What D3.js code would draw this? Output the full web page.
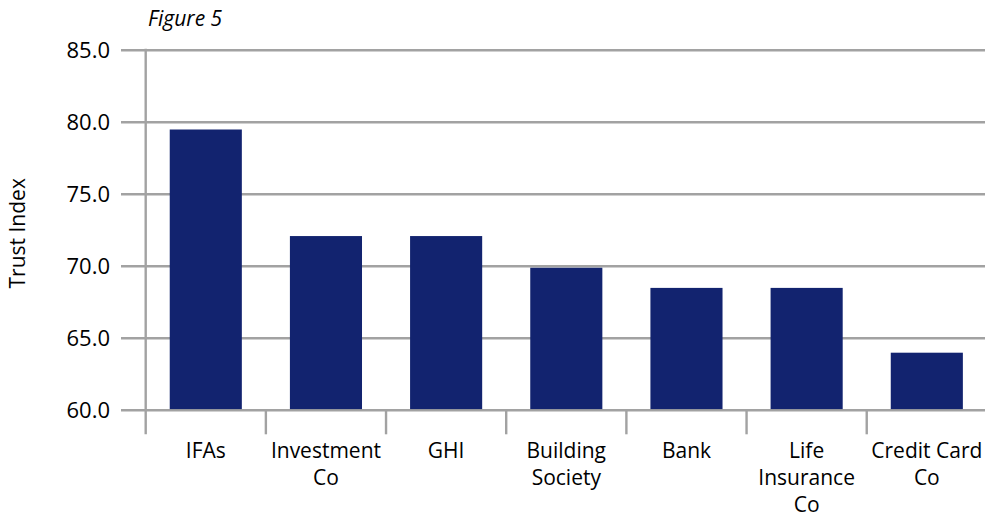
<!DOCTYPE html>
<html>
<head>
<meta charset="utf-8">
<script src="https://cdn.jsdelivr.net/npm/d3@7"></script>
<style>
  html, body { margin: 0; padding: 0; background: #fff; }
  svg { display: block; }
  text { font-family: "Open Sans", "Noto Sans", sans-serif; fill: #000; }
</style>
</head>
<body>
<svg id="chart" width="985" height="518"></svg>
<script>
// Trust Index by provider type
const categories = ["IFAs", "Investment Co", "GHI", "Building Society", "Bank", "Life Insurance Co", "Credit Card Co"];
const labelLines = [["IFAs"], ["Investment", "Co"], ["GHI"], ["Building", "Society"], ["Bank"], ["Life", "Insurance", "Co"], ["Credit Card", "Co"]];
const trustIndex = [79.5, 72.1, 72.1, 69.9, 68.5, 68.5, 64.0];
const yTicks = [60, 65, 70, 75, 80, 85];

const svg = d3.select("#chart");
const W = 985, H = 518;
const plot = { left: 145.7, right: 986.9, top: 50.3, bottom: 410.3 };
const gridColor = "#a2a2a2";

const x = d3.scaleBand()
  .domain(categories)
  .range([plot.left, plot.right])
  .paddingInner(0.4)
  .paddingOuter(0.2);

const y = d3.scaleLinear()
  .domain([60, 85])
  .range([plot.bottom, plot.top]);

// horizontal gridlines (the 60.0 line doubles as the category axis)
svg.append("g")
  .selectAll("line")
  .data(yTicks)
  .join("line")
  .attr("x1", 121)
  .attr("x2", W)
  .attr("y1", d => y(d))
  .attr("y2", d => y(d))
  .attr("stroke", gridColor)
  .attr("stroke-width", 2.4);

// value axis line
svg.append("line")
  .attr("x1", plot.left).attr("x2", plot.left)
  .attr("y1", plot.top - 1.5).attr("y2", plot.bottom + 24)
  .attr("stroke", gridColor)
  .attr("stroke-width", 2.4);

// category separator ticks
svg.append("g")
  .selectAll("line")
  .data(categories.slice(1))
  .join("line")
  .attr("x1", d => x(d) - x.step() * 0.2)
  .attr("x2", d => x(d) - x.step() * 0.2)
  .attr("y1", plot.bottom)
  .attr("y2", plot.bottom + 24)
  .attr("stroke", gridColor)
  .attr("stroke-width", 2.4);

// bars
svg.append("g")
  .selectAll("rect")
  .data(categories)
  .join("rect")
  .attr("x", d => x(d))
  .attr("width", x.bandwidth())
  .attr("y", (d, i) => y(trustIndex[i]))
  .attr("height", (d, i) => y(60) - y(trustIndex[i]) - 1.2)
  .attr("fill", "#12236f");

// value tick labels
svg.append("g")
  .selectAll("text")
  .data(yTicks)
  .join("text")
  .attr("x", 110)
  .attr("y", d => y(d) + 8)
  .attr("text-anchor", "end")
  .attr("font-size", 22)
  .text(d => d3.format(".1f")(d));

// category labels, one tspan per line
const lab = svg.append("g")
  .selectAll("text")
  .data(categories)
  .join("text")
  .attr("text-anchor", "middle")
  .attr("font-size", 21)
  .attr("x", d => x(d) + x.bandwidth() / 2)
  .attr("y", 458);
lab.selectAll("tspan")
  .data((d, i) => labelLines[i])
  .join("tspan")
  .attr("x", function () { return d3.select(this.parentNode).attr("x"); })
  .attr("dy", (d, j) => j === 0 ? 0 : 27)
  .text(d => d);

// axis title
svg.append("text")
  .attr("transform", `translate(25, ${(plot.top + plot.bottom) / 2 + 3}) rotate(-90)`)
  .attr("text-anchor", "middle")
  .attr("font-size", 21)
  .text("Trust Index");

// figure caption
svg.append("text")
  .attr("x", 148)
  .attr("y", 26)
  .attr("font-size", 21)
  .attr("font-style", "italic")
  .text("Figure 5");
</script>
</body>
</html>
